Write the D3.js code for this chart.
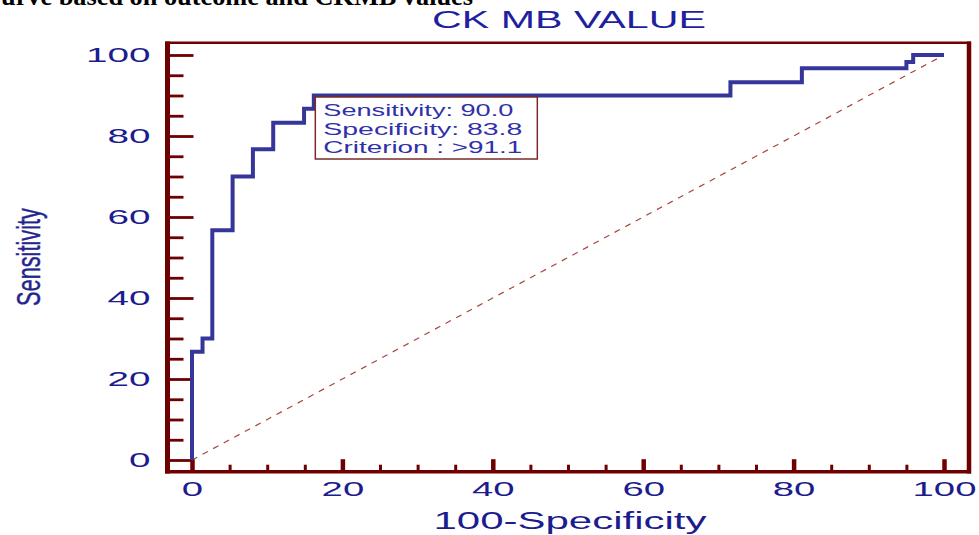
<!DOCTYPE html>
<html lang='en'>
<head>
  <meta charset='UTF-8'/>
  <title>CK MB VALUE - ROC curve</title>
  <script src='https://d3js.org/d3.v7.min.js'></script>
  <style>
    body { margin: 0; background: #fff; }
    svg { display: block; }
  </style>
</head>
<body>
<svg id='chart' width='979' height='535'></svg>
<script>

// ROC curve points (100-Specificity, Sensitivity)
const fpr  = [0, 0, 1.4, 2.7, 5.4, 8.1, 10.8, 14.9, 16.2, 71.6, 81.1, 95.0, 95.9, 100];
const sens = [0, 26.7, 30.0, 56.7, 70.0, 76.7, 83.3, 86.7, 90.0, 93.3, 96.7, 98.3, 100, 100];

// reference (chance) line
const diagX = [0, 100];
const diagY = [0, 100];

const xTicks = [0, 20, 40, 60, 80, 100];
const yTicks = [0, 20, 40, 60, 80, 100];
const minorTicks = d3.range(0, 101, 5);

const cutoffFpr = 16.2;
const cutoffSens = 90.0;
const boxLines = ['Sensitivity: 90.0', 'Specificity: 83.8', 'Criterion : >91.1'];

const title = 'CK MB VALUE';
const xTitle = '100-Specificity';
const yTitle = 'Sensitivity';
const caption = 'urve based on outcome and CKMB values';

const maroon = '#6e0000';
const blue = '#1c1c8e';
const lineBlue = '#36369a';

const svg = d3.select('#chart');
const x = d3.scaleLinear().domain([0, 100]).range([192, 944]);
const y = d3.scaleLinear().domain([0, 100]).range([460, 55]);

const frame = {left: 167.5, top: 42.8, right: 969, bottom: 471.7};

// caption, only its lower part shows at the top of the page
svg.append('text')
  .attr('x', 1).attr('y', 5)
  .attr('textLength', 472).attr('lengthAdjust', 'spacingAndGlyphs')
  .style('font', 'bold 26px "Liberation Serif", "Times New Roman", serif')
  .attr('fill', '#000')
  .text(caption);

// title
svg.append('text')
  .attr('x', 569).attr('y', 28)
  .attr('text-anchor', 'middle')
  .attr('textLength', 274).attr('lengthAdjust', 'spacingAndGlyphs')
  .style('font', '23px "Liberation Sans", Arial, sans-serif')
  .attr('fill', '#1f1fa0')
  .text(title);

// ticks (inside the frame)
function tickGroup(axis, tx, ty, vals, size, width) {
  const g = svg.append('g')
    .attr('transform', `translate(${tx},${ty})`)
    .call(axis.tickValues(vals).tickSize(size).tickFormat(''));
  g.select('.domain').remove();
  g.selectAll('line').attr('stroke', maroon).attr('stroke-width', width);
  return g;
}
const minorOnly = minorTicks.filter(v => v % 20 !== 0);
tickGroup(d3.axisRight(y), frame.left, 0, minorOnly, 16, 2.8);
tickGroup(d3.axisRight(y), frame.left, 0, yTicks, 26, 2.8);
tickGroup(d3.axisTop(x), 0, frame.bottom, minorOnly, 7, 3);
tickGroup(d3.axisTop(x), 0, frame.bottom, xTicks, 12.5, 4.5);

// tick labels
const yLab = svg.append('g')
  .attr('transform', `translate(${frame.left},0)`)
  .call(d3.axisLeft(y).tickValues(yTicks).tickSize(0).tickPadding(17));
yLab.select('.domain').remove();
yLab.selectAll('text')
  .attr('fill', blue)
  .attr('textLength', d => String(d).length * 21.5)
  .attr('lengthAdjust', 'spacingAndGlyphs')
  .style('font', '21px "Liberation Sans", Arial, sans-serif');

const xLab = svg.append('g')
  .attr('transform', `translate(0,${frame.bottom})`)
  .call(d3.axisBottom(x).tickValues(xTicks).tickSize(0).tickPadding(9));
xLab.select('.domain').remove();
xLab.selectAll('text')
  .attr('fill', blue)
  .attr('textLength', d => String(d).length * 21.3)
  .attr('lengthAdjust', 'spacingAndGlyphs')
  .style('font', '21px "Liberation Sans", Arial, sans-serif');

// axis titles
svg.append('text')
  .attr('x', 570).attr('y', 529)
  .attr('text-anchor', 'middle')
  .attr('textLength', 273).attr('lengthAdjust', 'spacingAndGlyphs')
  .style('font', '23px "Liberation Sans", Arial, sans-serif')
  .attr('fill', blue)
  .text(xTitle);

svg.append('text')
  .attr('transform', 'translate(40,257) rotate(-90)')
  .attr('text-anchor', 'middle')
  .attr('textLength', 98).attr('lengthAdjust', 'spacingAndGlyphs')
  .style('font', '33px "Liberation Sans", Arial, sans-serif')
  .attr('fill', '#25258e')
  .attr('stroke', '#25258e').attr('stroke-width', 0.4)
  .text(yTitle);

// chance diagonal
svg.append('path')
  .datum(d3.zip(diagX, diagY))
  .attr('d', d3.line().x(d => x(d[0])).y(d => y(d[1])))
  .attr('fill', 'none')
  .attr('stroke', '#a8453c')
  .attr('stroke-width', 1.2)
  .attr('stroke-dasharray', '6,6');

// ROC curve
svg.append('path')
  .datum(d3.zip(fpr, sens))
  .attr('d', d3.line().curve(d3.curveStepAfter).x(d => x(d[0])).y(d => y(d[1])))
  .attr('fill', 'none')
  .attr('stroke', lineBlue)
  .attr('stroke-width', 4);

// frame
svg.append('line').attr('x1', 165).attr('x2', 971).attr('y1', frame.top).attr('y2', frame.top)
  .attr('stroke', maroon).attr('stroke-width', 2.5);
svg.append('line').attr('x1', 165).attr('x2', 971).attr('y1', frame.bottom).attr('y2', frame.bottom)
  .attr('stroke', maroon).attr('stroke-width', 3.5);
svg.append('line').attr('x1', frame.left).attr('x2', frame.left).attr('y1', 41.5).attr('y2', 473.5)
  .attr('stroke', maroon).attr('stroke-width', 5);
svg.append('line').attr('x1', frame.right).attr('x2', frame.right).attr('y1', 41.5).attr('y2', 473.5)
  .attr('stroke', maroon).attr('stroke-width', 4.5);

// criterion box
const bx = x(cutoffFpr) + 1.5;
const by = y(cutoffSens) + 1.5;
const box = svg.append('g').attr('transform', `translate(${bx},${by})`);
box.append('rect')
  .attr('width', 222).attr('height', 62)
  .attr('fill', '#fff')
  .attr('stroke', '#7a2a2a')
  .attr('stroke-width', 1.5);
box.selectAll('text').data(boxLines).join('text')
  .attr('x', 8)
  .attr('y', (d, i) => 19 + i * 18.5)
  .attr('textLength', (d, i) => i === 0 ? 190 : 199)
  .attr('lengthAdjust', 'spacingAndGlyphs')
  .style('font', '17px "Liberation Sans", Arial, sans-serif')
  .attr('fill', '#3030a8')
  .text(d => d);

</script>
</body>
</html>
